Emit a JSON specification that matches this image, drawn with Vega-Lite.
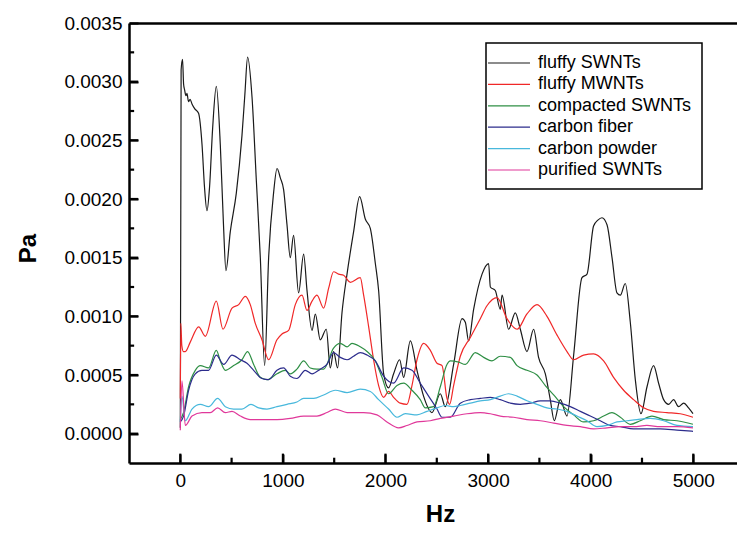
{
  "$schema": "https://vega.github.io/schema/vega-lite/v6.json",
  "width": 608,
  "height": 440,
  "autosize": {"type": "none"},
  "padding": {"left": 129, "top": 23, "right": 0, "bottom": 77},
  "background": "white",
  "config": {
    "view": {"stroke": null, "fill": null},
    "font": "Liberation Sans",
    "axis": {"domainColor": "black", "labelColor": "black", "titleColor": "black", "labelFont": "Liberation Sans", "titleFont": "Liberation Sans", "grid": false, "labelFontSize": 19, "titleFontSize": 24, "titleFontWeight": "bold", "domainWidth": 2.5},
    "legend": {"strokeWidth": 1.5}
  },
  "data": {"values": [
    {"series":"fluffy SWNTs","hz":0,"pa":0.00005},{"series":"fluffy SWNTs","hz":8,"pa":0.0031},{"series":"fluffy SWNTs","hz":22,"pa":0.00319},{"series":"fluffy SWNTs","hz":32,"pa":0.00298},{"series":"fluffy SWNTs","hz":42,"pa":0.00293},{"series":"fluffy SWNTs","hz":55,"pa":0.00288},{"series":"fluffy SWNTs","hz":65,"pa":0.0029},{"series":"fluffy SWNTs","hz":80,"pa":0.00283},{"series":"fluffy SWNTs","hz":95,"pa":0.00285},{"series":"fluffy SWNTs","hz":114,"pa":0.00281},{"series":"fluffy SWNTs","hz":140,"pa":0.00277},{"series":"fluffy SWNTs","hz":178,"pa":0.00273},{"series":"fluffy SWNTs","hz":212,"pa":0.00246},{"series":"fluffy SWNTs","hz":236,"pa":0.0021},{"series":"fluffy SWNTs","hz":260,"pa":0.0019},{"series":"fluffy SWNTs","hz":285,"pa":0.0021},{"series":"fluffy SWNTs","hz":315,"pa":0.0026},{"series":"fluffy SWNTs","hz":351,"pa":0.00296},{"series":"fluffy SWNTs","hz":390,"pa":0.00246},{"series":"fluffy SWNTs","hz":420,"pa":0.0018},{"series":"fluffy SWNTs","hz":445,"pa":0.00139},{"series":"fluffy SWNTs","hz":487,"pa":0.00172},{"series":"fluffy SWNTs","hz":546,"pa":0.00205},{"series":"fluffy SWNTs","hz":601,"pa":0.00254},{"series":"fluffy SWNTs","hz":630,"pa":0.0029},{"series":"fluffy SWNTs","hz":656,"pa":0.00321},{"series":"fluffy SWNTs","hz":699,"pa":0.00287},{"series":"fluffy SWNTs","hz":741,"pa":0.00216},{"series":"fluffy SWNTs","hz":780,"pa":0.0015},{"series":"fluffy SWNTs","hz":822,"pa":0.00058},{"series":"fluffy SWNTs","hz":861,"pa":0.0015},{"series":"fluffy SWNTs","hz":909,"pa":0.00205},{"series":"fluffy SWNTs","hz":943,"pa":0.00226},{"series":"fluffy SWNTs","hz":975,"pa":0.00218},{"series":"fluffy SWNTs","hz":1007,"pa":0.00208},{"series":"fluffy SWNTs","hz":1040,"pa":0.00178},{"series":"fluffy SWNTs","hz":1072,"pa":0.0015},{"series":"fluffy SWNTs","hz":1104,"pa":0.00169},{"series":"fluffy SWNTs","hz":1153,"pa":0.0012},{"series":"fluffy SWNTs","hz":1202,"pa":0.00153},{"series":"fluffy SWNTs","hz":1235,"pa":0.00122},{"series":"fluffy SWNTs","hz":1284,"pa":0.00088},{"series":"fluffy SWNTs","hz":1316,"pa":0.00102},{"series":"fluffy SWNTs","hz":1364,"pa":0.0008},{"series":"fluffy SWNTs","hz":1423,"pa":0.00089},{"series":"fluffy SWNTs","hz":1462,"pa":0.00056},{"series":"fluffy SWNTs","hz":1494,"pa":0.0007},{"series":"fluffy SWNTs","hz":1533,"pa":0.00056},{"series":"fluffy SWNTs","hz":1576,"pa":0.00103},{"series":"fluffy SWNTs","hz":1625,"pa":0.00136},{"series":"fluffy SWNTs","hz":1689,"pa":0.00172},{"series":"fluffy SWNTs","hz":1748,"pa":0.00202},{"series":"fluffy SWNTs","hz":1803,"pa":0.00183},{"series":"fluffy SWNTs","hz":1852,"pa":0.00175},{"series":"fluffy SWNTs","hz":1901,"pa":0.00145},{"series":"fluffy SWNTs","hz":1933,"pa":0.00122},{"series":"fluffy SWNTs","hz":1982,"pa":0.00051},{"series":"fluffy SWNTs","hz":2030,"pa":0.00039},{"series":"fluffy SWNTs","hz":2079,"pa":0.00051},{"series":"fluffy SWNTs","hz":2138,"pa":0.00063},{"series":"fluffy SWNTs","hz":2177,"pa":0.00048},{"series":"fluffy SWNTs","hz":2242,"pa":0.00079},{"series":"fluffy SWNTs","hz":2307,"pa":0.00054},{"series":"fluffy SWNTs","hz":2371,"pa":0.00032},{"series":"fluffy SWNTs","hz":2453,"pa":0.00018},{"series":"fluffy SWNTs","hz":2534,"pa":0.00034},{"series":"fluffy SWNTs","hz":2583,"pa":0.00023},{"series":"fluffy SWNTs","hz":2664,"pa":0.00059},{"series":"fluffy SWNTs","hz":2746,"pa":0.00098},{"series":"fluffy SWNTs","hz":2778,"pa":0.00095},{"series":"fluffy SWNTs","hz":2810,"pa":0.00079},{"series":"fluffy SWNTs","hz":2859,"pa":0.00106},{"series":"fluffy SWNTs","hz":2941,"pa":0.00136},{"series":"fluffy SWNTs","hz":3005,"pa":0.00145},{"series":"fluffy SWNTs","hz":3022,"pa":0.00125},{"series":"fluffy SWNTs","hz":3070,"pa":0.00122},{"series":"fluffy SWNTs","hz":3119,"pa":0.00106},{"series":"fluffy SWNTs","hz":3136,"pa":0.00118},{"series":"fluffy SWNTs","hz":3200,"pa":0.00089},{"series":"fluffy SWNTs","hz":3265,"pa":0.00103},{"series":"fluffy SWNTs","hz":3314,"pa":0.00089},{"series":"fluffy SWNTs","hz":3379,"pa":0.0007},{"series":"fluffy SWNTs","hz":3444,"pa":0.00089},{"series":"fluffy SWNTs","hz":3492,"pa":0.00065},{"series":"fluffy SWNTs","hz":3558,"pa":0.00051},{"series":"fluffy SWNTs","hz":3606,"pa":0.00029},{"series":"fluffy SWNTs","hz":3645,"pa":0.00011},{"series":"fluffy SWNTs","hz":3704,"pa":0.00029},{"series":"fluffy SWNTs","hz":3769,"pa":0.00015},{"series":"fluffy SWNTs","hz":3834,"pa":0.00067},{"series":"fluffy SWNTs","hz":3915,"pa":0.00133},{"series":"fluffy SWNTs","hz":3964,"pa":0.00136},{"series":"fluffy SWNTs","hz":4028,"pa":0.00177},{"series":"fluffy SWNTs","hz":4070,"pa":0.00182},{"series":"fluffy SWNTs","hz":4110,"pa":0.00184},{"series":"fluffy SWNTs","hz":4159,"pa":0.00178},{"series":"fluffy SWNTs","hz":4208,"pa":0.0015},{"series":"fluffy SWNTs","hz":4256,"pa":0.0012},{"series":"fluffy SWNTs","hz":4289,"pa":0.00118},{"series":"fluffy SWNTs","hz":4337,"pa":0.00128},{"series":"fluffy SWNTs","hz":4386,"pa":0.00095},{"series":"fluffy SWNTs","hz":4435,"pa":0.00046},{"series":"fluffy SWNTs","hz":4490,"pa":0.00017},{"series":"fluffy SWNTs","hz":4549,"pa":0.0004},{"series":"fluffy SWNTs","hz":4613,"pa":0.00058},{"series":"fluffy SWNTs","hz":4662,"pa":0.00043},{"series":"fluffy SWNTs","hz":4711,"pa":0.00029},{"series":"fluffy SWNTs","hz":4760,"pa":0.00025},{"series":"fluffy SWNTs","hz":4808,"pa":0.00029},{"series":"fluffy SWNTs","hz":4857,"pa":0.00023},{"series":"fluffy SWNTs","hz":4906,"pa":0.00026},{"series":"fluffy SWNTs","hz":4954,"pa":0.00022},{"series":"fluffy SWNTs","hz":4997,"pa":0.00017},
    {"series":"fluffy MWNTs","hz":0,"pa":0.0003},{"series":"fluffy MWNTs","hz":5,"pa":0.00094},{"series":"fluffy MWNTs","hz":15,"pa":0.00075},{"series":"fluffy MWNTs","hz":30,"pa":0.0007},{"series":"fluffy MWNTs","hz":49,"pa":0.0007},{"series":"fluffy MWNTs","hz":97,"pa":0.00078},{"series":"fluffy MWNTs","hz":179,"pa":0.00091},{"series":"fluffy MWNTs","hz":244,"pa":0.00083},{"series":"fluffy MWNTs","hz":351,"pa":0.00113},{"series":"fluffy MWNTs","hz":416,"pa":0.00089},{"series":"fluffy MWNTs","hz":504,"pa":0.00107},{"series":"fluffy MWNTs","hz":569,"pa":0.0011},{"series":"fluffy MWNTs","hz":634,"pa":0.00117},{"series":"fluffy MWNTs","hz":682,"pa":0.0011},{"series":"fluffy MWNTs","hz":731,"pa":0.00094},{"series":"fluffy MWNTs","hz":796,"pa":0.0008},{"series":"fluffy MWNTs","hz":861,"pa":0.00063},{"series":"fluffy MWNTs","hz":942,"pa":0.0008},{"series":"fluffy MWNTs","hz":991,"pa":0.00085},{"series":"fluffy MWNTs","hz":1056,"pa":0.00088},{"series":"fluffy MWNTs","hz":1121,"pa":0.0011},{"series":"fluffy MWNTs","hz":1186,"pa":0.00118},{"series":"fluffy MWNTs","hz":1235,"pa":0.00105},{"series":"fluffy MWNTs","hz":1284,"pa":0.00113},{"series":"fluffy MWNTs","hz":1332,"pa":0.00118},{"series":"fluffy MWNTs","hz":1397,"pa":0.00107},{"series":"fluffy MWNTs","hz":1446,"pa":0.00124},{"series":"fluffy MWNTs","hz":1494,"pa":0.00138},{"series":"fluffy MWNTs","hz":1543,"pa":0.00136},{"series":"fluffy MWNTs","hz":1592,"pa":0.00135},{"series":"fluffy MWNTs","hz":1657,"pa":0.00129},{"series":"fluffy MWNTs","hz":1754,"pa":0.00133},{"series":"fluffy MWNTs","hz":1787,"pa":0.00118},{"series":"fluffy MWNTs","hz":1836,"pa":0.00091},{"series":"fluffy MWNTs","hz":1884,"pa":0.00063},{"series":"fluffy MWNTs","hz":1933,"pa":0.00041},{"series":"fluffy MWNTs","hz":1982,"pa":0.00031},{"series":"fluffy MWNTs","hz":2030,"pa":0.00036},{"series":"fluffy MWNTs","hz":2079,"pa":0.00031},{"series":"fluffy MWNTs","hz":2144,"pa":0.00026},{"series":"fluffy MWNTs","hz":2209,"pa":0.00025},{"series":"fluffy MWNTs","hz":2258,"pa":0.00041},{"series":"fluffy MWNTs","hz":2307,"pa":0.00063},{"series":"fluffy MWNTs","hz":2372,"pa":0.00077},{"series":"fluffy MWNTs","hz":2437,"pa":0.00071},{"series":"fluffy MWNTs","hz":2502,"pa":0.0006},{"series":"fluffy MWNTs","hz":2551,"pa":0.00058},{"series":"fluffy MWNTs","hz":2599,"pa":0.0003},{"series":"fluffy MWNTs","hz":2625,"pa":0.00025},{"series":"fluffy MWNTs","hz":2664,"pa":0.00041},{"series":"fluffy MWNTs","hz":2729,"pa":0.00066},{"series":"fluffy MWNTs","hz":2827,"pa":0.00082},{"series":"fluffy MWNTs","hz":2924,"pa":0.00098},{"series":"fluffy MWNTs","hz":2989,"pa":0.00109},{"series":"fluffy MWNTs","hz":3087,"pa":0.00116},{"series":"fluffy MWNTs","hz":3184,"pa":0.00098},{"series":"fluffy MWNTs","hz":3282,"pa":0.00089},{"series":"fluffy MWNTs","hz":3379,"pa":0.00102},{"series":"fluffy MWNTs","hz":3477,"pa":0.0011},{"series":"fluffy MWNTs","hz":3574,"pa":0.001},{"series":"fluffy MWNTs","hz":3672,"pa":0.00084},{"series":"fluffy MWNTs","hz":3769,"pa":0.0007},{"series":"fluffy MWNTs","hz":3834,"pa":0.00063},{"series":"fluffy MWNTs","hz":3931,"pa":0.00067},{"series":"fluffy MWNTs","hz":4028,"pa":0.00068},{"series":"fluffy MWNTs","hz":4126,"pa":0.00062},{"series":"fluffy MWNTs","hz":4223,"pa":0.00048},{"series":"fluffy MWNTs","hz":4321,"pa":0.00037},{"series":"fluffy MWNTs","hz":4418,"pa":0.00029},{"series":"fluffy MWNTs","hz":4516,"pa":0.00022},{"series":"fluffy MWNTs","hz":4613,"pa":0.00019},{"series":"fluffy MWNTs","hz":4743,"pa":0.00018},{"series":"fluffy MWNTs","hz":4873,"pa":0.00017},{"series":"fluffy MWNTs","hz":4997,"pa":0.00014},
    {"series":"compacted SWNTs","hz":0,"pa":0.00012},{"series":"compacted SWNTs","hz":32,"pa":0.00018},{"series":"compacted SWNTs","hz":81,"pa":0.0004},{"series":"compacted SWNTs","hz":146,"pa":0.00054},{"series":"compacted SWNTs","hz":195,"pa":0.00058},{"series":"compacted SWNTs","hz":276,"pa":0.00056},{"series":"compacted SWNTs","hz":351,"pa":0.00071},{"series":"compacted SWNTs","hz":390,"pa":0.00062},{"series":"compacted SWNTs","hz":439,"pa":0.00054},{"series":"compacted SWNTs","hz":520,"pa":0.00058},{"series":"compacted SWNTs","hz":601,"pa":0.00063},{"series":"compacted SWNTs","hz":656,"pa":0.0007},{"series":"compacted SWNTs","hz":715,"pa":0.00059},{"series":"compacted SWNTs","hz":780,"pa":0.00048},{"series":"compacted SWNTs","hz":845,"pa":0.00046},{"series":"compacted SWNTs","hz":942,"pa":0.00051},{"series":"compacted SWNTs","hz":1023,"pa":0.00054},{"series":"compacted SWNTs","hz":1072,"pa":0.00051},{"series":"compacted SWNTs","hz":1137,"pa":0.00055},{"series":"compacted SWNTs","hz":1202,"pa":0.00062},{"series":"compacted SWNTs","hz":1267,"pa":0.00056},{"series":"compacted SWNTs","hz":1332,"pa":0.00055},{"series":"compacted SWNTs","hz":1397,"pa":0.00055},{"series":"compacted SWNTs","hz":1494,"pa":0.00073},{"series":"compacted SWNTs","hz":1559,"pa":0.00077},{"series":"compacted SWNTs","hz":1625,"pa":0.00074},{"series":"compacted SWNTs","hz":1673,"pa":0.00077},{"series":"compacted SWNTs","hz":1754,"pa":0.00074},{"series":"compacted SWNTs","hz":1820,"pa":0.0007},{"series":"compacted SWNTs","hz":1901,"pa":0.00062},{"series":"compacted SWNTs","hz":1966,"pa":0.00048},{"series":"compacted SWNTs","hz":2030,"pa":0.00034},{"series":"compacted SWNTs","hz":2112,"pa":0.00041},{"series":"compacted SWNTs","hz":2177,"pa":0.00043},{"series":"compacted SWNTs","hz":2258,"pa":0.00037},{"series":"compacted SWNTs","hz":2339,"pa":0.00029},{"series":"compacted SWNTs","hz":2388,"pa":0.00022},{"series":"compacted SWNTs","hz":2469,"pa":0.00023},{"series":"compacted SWNTs","hz":2534,"pa":0.0004},{"series":"compacted SWNTs","hz":2599,"pa":0.00059},{"series":"compacted SWNTs","hz":2632,"pa":0.00062},{"series":"compacted SWNTs","hz":2713,"pa":0.00061},{"series":"compacted SWNTs","hz":2778,"pa":0.00059},{"series":"compacted SWNTs","hz":2875,"pa":0.00069},{"series":"compacted SWNTs","hz":2957,"pa":0.00065},{"series":"compacted SWNTs","hz":3038,"pa":0.00062},{"series":"compacted SWNTs","hz":3119,"pa":0.00066},{"series":"compacted SWNTs","hz":3216,"pa":0.00065},{"series":"compacted SWNTs","hz":3282,"pa":0.00058},{"series":"compacted SWNTs","hz":3379,"pa":0.00054},{"series":"compacted SWNTs","hz":3477,"pa":0.0005},{"series":"compacted SWNTs","hz":3558,"pa":0.00041},{"series":"compacted SWNTs","hz":3639,"pa":0.00033},{"series":"compacted SWNTs","hz":3736,"pa":0.00023},{"series":"compacted SWNTs","hz":3834,"pa":0.00016},{"series":"compacted SWNTs","hz":3931,"pa":0.0001},{"series":"compacted SWNTs","hz":4028,"pa":0.00011},{"series":"compacted SWNTs","hz":4126,"pa":0.00015},{"series":"compacted SWNTs","hz":4207,"pa":0.00018},{"series":"compacted SWNTs","hz":4289,"pa":0.00014},{"series":"compacted SWNTs","hz":4386,"pa":0.00008},{"series":"compacted SWNTs","hz":4483,"pa":0.00011},{"series":"compacted SWNTs","hz":4597,"pa":0.00015},{"series":"compacted SWNTs","hz":4711,"pa":0.00012},{"series":"compacted SWNTs","hz":4841,"pa":0.00011},{"series":"compacted SWNTs","hz":4997,"pa":0.00008},
    {"series":"carbon fiber","hz":0,"pa":0.0001},{"series":"carbon fiber","hz":32,"pa":0.00015},{"series":"carbon fiber","hz":81,"pa":0.00037},{"series":"carbon fiber","hz":146,"pa":0.00051},{"series":"carbon fiber","hz":211,"pa":0.00054},{"series":"carbon fiber","hz":276,"pa":0.00054},{"series":"carbon fiber","hz":351,"pa":0.00067},{"series":"carbon fiber","hz":423,"pa":0.00059},{"series":"carbon fiber","hz":504,"pa":0.00067},{"series":"carbon fiber","hz":585,"pa":0.00063},{"series":"carbon fiber","hz":650,"pa":0.0006},{"series":"carbon fiber","hz":715,"pa":0.00054},{"series":"carbon fiber","hz":796,"pa":0.00047},{"series":"carbon fiber","hz":861,"pa":0.00046},{"series":"carbon fiber","hz":942,"pa":0.00054},{"series":"carbon fiber","hz":1007,"pa":0.00056},{"series":"carbon fiber","hz":1072,"pa":0.00049},{"series":"carbon fiber","hz":1137,"pa":0.00047},{"series":"carbon fiber","hz":1218,"pa":0.00054},{"series":"carbon fiber","hz":1284,"pa":0.00051},{"series":"carbon fiber","hz":1364,"pa":0.00055},{"series":"carbon fiber","hz":1429,"pa":0.00059},{"series":"carbon fiber","hz":1494,"pa":0.00069},{"series":"carbon fiber","hz":1559,"pa":0.00065},{"series":"carbon fiber","hz":1625,"pa":0.00063},{"series":"carbon fiber","hz":1689,"pa":0.00066},{"series":"carbon fiber","hz":1754,"pa":0.00069},{"series":"carbon fiber","hz":1820,"pa":0.00067},{"series":"carbon fiber","hz":1901,"pa":0.00062},{"series":"carbon fiber","hz":1982,"pa":0.00049},{"series":"carbon fiber","hz":2079,"pa":0.00043},{"series":"carbon fiber","hz":2177,"pa":0.00056},{"series":"carbon fiber","hz":2258,"pa":0.00054},{"series":"carbon fiber","hz":2339,"pa":0.00043},{"series":"carbon fiber","hz":2420,"pa":0.00032},{"series":"carbon fiber","hz":2502,"pa":0.00021},{"series":"carbon fiber","hz":2551,"pa":0.00014},{"series":"carbon fiber","hz":2632,"pa":0.00014},{"series":"carbon fiber","hz":2729,"pa":0.00026},{"series":"carbon fiber","hz":2827,"pa":0.00029},{"series":"carbon fiber","hz":2924,"pa":0.0003},{"series":"carbon fiber","hz":3022,"pa":0.00031},{"series":"carbon fiber","hz":3119,"pa":0.00029},{"series":"carbon fiber","hz":3216,"pa":0.00026},{"series":"carbon fiber","hz":3314,"pa":0.00025},{"series":"carbon fiber","hz":3411,"pa":0.00026},{"series":"carbon fiber","hz":3509,"pa":0.00028},{"series":"carbon fiber","hz":3606,"pa":0.00028},{"series":"carbon fiber","hz":3704,"pa":0.00026},{"series":"carbon fiber","hz":3801,"pa":0.00023},{"series":"carbon fiber","hz":3899,"pa":0.00019},{"series":"carbon fiber","hz":3996,"pa":0.00015},{"series":"carbon fiber","hz":4093,"pa":0.00011},{"series":"carbon fiber","hz":4191,"pa":0.00007},{"series":"carbon fiber","hz":4289,"pa":0.00006},{"series":"carbon fiber","hz":4418,"pa":0.00004},{"series":"carbon fiber","hz":4548,"pa":0.00004},{"series":"carbon fiber","hz":4678,"pa":0.00004},{"series":"carbon fiber","hz":4841,"pa":0.00003},{"series":"carbon fiber","hz":4997,"pa":0.00002},
    {"series":"carbon powder","hz":0,"pa":0.0001},{"series":"carbon powder","hz":16,"pa":0.00032},{"series":"carbon powder","hz":49,"pa":0.00011},{"series":"carbon powder","hz":114,"pa":0.00021},{"series":"carbon powder","hz":195,"pa":0.00025},{"series":"carbon powder","hz":276,"pa":0.00023},{"series":"carbon powder","hz":364,"pa":0.0003},{"series":"carbon powder","hz":439,"pa":0.00023},{"series":"carbon powder","hz":520,"pa":0.00021},{"series":"carbon powder","hz":601,"pa":0.00021},{"series":"carbon powder","hz":689,"pa":0.00025},{"series":"carbon powder","hz":764,"pa":0.00022},{"series":"carbon powder","hz":845,"pa":0.00021},{"series":"carbon powder","hz":942,"pa":0.00023},{"series":"carbon powder","hz":1040,"pa":0.00025},{"series":"carbon powder","hz":1137,"pa":0.00027},{"series":"carbon powder","hz":1202,"pa":0.0003},{"series":"carbon powder","hz":1300,"pa":0.0003},{"series":"carbon powder","hz":1397,"pa":0.00033},{"series":"carbon powder","hz":1511,"pa":0.00037},{"series":"carbon powder","hz":1625,"pa":0.00035},{"series":"carbon powder","hz":1754,"pa":0.00038},{"series":"carbon powder","hz":1852,"pa":0.00036},{"series":"carbon powder","hz":1933,"pa":0.00029},{"series":"carbon powder","hz":2030,"pa":0.00021},{"series":"carbon powder","hz":2112,"pa":0.00014},{"series":"carbon powder","hz":2193,"pa":0.00017},{"series":"carbon powder","hz":2307,"pa":0.00016},{"series":"carbon powder","hz":2404,"pa":0.00019},{"series":"carbon powder","hz":2502,"pa":0.00022},{"series":"carbon powder","hz":2583,"pa":0.00024},{"series":"carbon powder","hz":2664,"pa":0.00023},{"series":"carbon powder","hz":2729,"pa":0.00024},{"series":"carbon powder","hz":2827,"pa":0.00026},{"series":"carbon powder","hz":2924,"pa":0.00028},{"series":"carbon powder","hz":3022,"pa":0.00029},{"series":"carbon powder","hz":3119,"pa":0.00032},{"series":"carbon powder","hz":3200,"pa":0.00034},{"series":"carbon powder","hz":3282,"pa":0.00032},{"series":"carbon powder","hz":3379,"pa":0.00028},{"series":"carbon powder","hz":3477,"pa":0.00025},{"series":"carbon powder","hz":3574,"pa":0.00022},{"series":"carbon powder","hz":3672,"pa":0.00021},{"series":"carbon powder","hz":3769,"pa":0.00019},{"series":"carbon powder","hz":3866,"pa":0.00015},{"series":"carbon powder","hz":3964,"pa":0.00011},{"series":"carbon powder","hz":4061,"pa":0.00006},{"series":"carbon powder","hz":4159,"pa":0.00007},{"series":"carbon powder","hz":4256,"pa":0.0001},{"series":"carbon powder","hz":4354,"pa":0.00011},{"series":"carbon powder","hz":4451,"pa":0.00012},{"series":"carbon powder","hz":4581,"pa":0.00013},{"series":"carbon powder","hz":4711,"pa":0.00011},{"series":"carbon powder","hz":4841,"pa":0.00007},{"series":"carbon powder","hz":4997,"pa":0.00006},
    {"series":"purified SWNTs","hz":0,"pa":0.00003},{"series":"purified SWNTs","hz":16,"pa":0.00045},{"series":"purified SWNTs","hz":49,"pa":0.00007},{"series":"purified SWNTs","hz":114,"pa":0.00015},{"series":"purified SWNTs","hz":211,"pa":0.00018},{"series":"purified SWNTs","hz":292,"pa":0.00018},{"series":"purified SWNTs","hz":364,"pa":0.00022},{"series":"purified SWNTs","hz":439,"pa":0.00018},{"series":"purified SWNTs","hz":504,"pa":0.00019},{"series":"purified SWNTs","hz":585,"pa":0.00015},{"series":"purified SWNTs","hz":682,"pa":0.00012},{"series":"purified SWNTs","hz":812,"pa":0.00012},{"series":"purified SWNTs","hz":942,"pa":0.00012},{"series":"purified SWNTs","hz":1072,"pa":0.00013},{"series":"purified SWNTs","hz":1202,"pa":0.00015},{"series":"purified SWNTs","hz":1332,"pa":0.00015},{"series":"purified SWNTs","hz":1429,"pa":0.00018},{"series":"purified SWNTs","hz":1511,"pa":0.00021},{"series":"purified SWNTs","hz":1625,"pa":0.00018},{"series":"purified SWNTs","hz":1787,"pa":0.00018},{"series":"purified SWNTs","hz":1917,"pa":0.00016},{"series":"purified SWNTs","hz":2014,"pa":0.0001},{"series":"purified SWNTs","hz":2128,"pa":0.00005},{"series":"purified SWNTs","hz":2209,"pa":0.00007},{"series":"purified SWNTs","hz":2307,"pa":0.0001},{"series":"purified SWNTs","hz":2437,"pa":0.00011},{"series":"purified SWNTs","hz":2534,"pa":0.00013},{"series":"purified SWNTs","hz":2664,"pa":0.00015},{"series":"purified SWNTs","hz":2794,"pa":0.00017},{"series":"purified SWNTs","hz":2924,"pa":0.00018},{"series":"purified SWNTs","hz":3022,"pa":0.00017},{"series":"purified SWNTs","hz":3119,"pa":0.00015},{"series":"purified SWNTs","hz":3249,"pa":0.00014},{"series":"purified SWNTs","hz":3379,"pa":0.00012},{"series":"purified SWNTs","hz":3509,"pa":0.00011},{"series":"purified SWNTs","hz":3639,"pa":0.00009},{"series":"purified SWNTs","hz":3769,"pa":0.00007},{"series":"purified SWNTs","hz":3899,"pa":0.00006},{"series":"purified SWNTs","hz":4028,"pa":0.00004},{"series":"purified SWNTs","hz":4159,"pa":0.00005},{"series":"purified SWNTs","hz":4289,"pa":0.00006},{"series":"purified SWNTs","hz":4418,"pa":0.00006},{"series":"purified SWNTs","hz":4548,"pa":0.00007},{"series":"purified SWNTs","hz":4678,"pa":0.00006},{"series":"purified SWNTs","hz":4841,"pa":0.00006},{"series":"purified SWNTs","hz":4997,"pa":0.00005}
  ]},
  "layer": [
    {
      "mark": {"type": "line", "strokeWidth": 1.2, "interpolate": "monotone"},
      "encoding": {
        "x": {"field": "hz", "type": "quantitative", "scale": {"domain": [-500, 5426], "nice": false, "zero": false},
          "axis": {"orient": "bottom", "offset": -9, "domain": false, "ticks": true, "tickSize": 9, "tickColor": "#000000", "tickWidth": 2, "values": [0, 1000, 2000, 3000, 4000, 5000], "format": "d", "labelPadding": 8, "labelFlush": false, "labelOverlap": false, "title": "Hz", "titleX": 311, "titleY": 67, "titleBaseline": "alphabetic", "titleAlign": "center"}},
        "y": {"field": "pa", "type": "quantitative", "scale": {"domain": [-0.00025, 0.0035], "nice": false, "zero": false},
          "axis": {"orient": "left", "offset": -9, "domain": false, "ticks": true, "tickSize": 9, "tickColor": "#000000", "tickWidth": 2, "values": [0, 0.0005, 0.001, 0.0015, 0.002, 0.0025, 0.003, 0.0035], "format": ".4f", "labelPadding": 7, "labelFlush": false, "labelOverlap": false, "title": "Pa", "titleX": -103, "titleY": 225, "titleBaseline": "alphabetic", "titleAlign": "center", "titleAngle": -90}},
        "color": {"field": "series", "type": "nominal",
          "scale": {"domain": ["fluffy SWNTs", "fluffy MWNTs", "compacted SWNTs", "carbon fiber", "carbon powder", "purified SWNTs"], "range": ["#1a1a1a", "#f02828", "#2f8f45", "#2c2c8c", "#48b8dc", "#e0389a"]},
          "legend": {"orient": "none", "legendX": 357, "legendY": 20, "title": null, "padding": 10, "strokeColor": "black", "fillColor": "white", "symbolType": "M-2.333,0L2.333,0", "symbolSize": 324, "symbolStrokeWidth": 1.2, "symbolOffset": 3, "labelOffset": 19, "labelFontSize": 18, "labelFont": "Liberation Sans", "labelColor": "black", "labelLimit": 400, "rowPadding": 2.4, "labelExpr": "datum.label + '  '"}}
      }
    },
    {
      "mark": {"type": "line", "opacity": 0},
      "encoding": {
        "x": {"field": "hz", "type": "quantitative", "scale": {"domain": [-500, 5426], "nice": false, "zero": false},
          "axis": {"orient": "top", "labels": false, "ticks": false, "domain": true, "title": null}},
        "y": {"field": "pa", "type": "quantitative", "scale": {"domain": [-0.00025, 0.0035], "nice": false, "zero": false},
          "axis": {"orient": "left", "labels": false, "ticks": false, "domain": true, "title": null}},
        "detail": {"field": "series"}
      }
    },
    {
      "mark": {"type": "line", "opacity": 0},
      "encoding": {
        "x": {"field": "hz", "type": "quantitative", "scale": {"domain": [-500, 5426], "nice": false, "zero": false},
          "axis": {"orient": "bottom", "labels": false, "ticks": false, "domain": true, "title": null}},
        "y": {"field": "pa", "type": "quantitative", "scale": {"domain": [-0.00025, 0.0035], "nice": false, "zero": false}, "axis": null},
        "detail": {"field": "series"}
      }
    },
    {
      "data": {"values": [{"hz": 0}, {"hz": 1000}, {"hz": 2000}, {"hz": 3000}, {"hz": 4000}, {"hz": 5000}]},
      "mark": {"type": "rule", "strokeWidth": 2.2, "color": "#000000", "opacity": 1},
      "encoding": {
        "x": {"field": "hz", "type": "quantitative", "scale": {"domain": [-500, 5426], "nice": false, "zero": false}, "axis": null},
        "y": {"datum": -0.00025, "type": "quantitative", "scale": {"domain": [-0.00025, 0.0035], "nice": false, "zero": false}, "axis": null},
        "y2": {"datum": -0.00017}
      }
    },
    {
      "data": {"values": [{"hz": 500}, {"hz": 1500}, {"hz": 2500}, {"hz": 3500}, {"hz": 4500}]},
      "mark": {"type": "rule", "strokeWidth": 2.2, "color": "#000000", "opacity": 1},
      "encoding": {
        "x": {"field": "hz", "type": "quantitative", "scale": {"domain": [-500, 5426], "nice": false, "zero": false}, "axis": null},
        "y": {"datum": -0.00025, "type": "quantitative", "scale": {"domain": [-0.00025, 0.0035], "nice": false, "zero": false}, "axis": null},
        "y2": {"datum": -0.000205}
      }
    },
    {
      "data": {"values": [{"pa": 0}, {"pa": 0.0005}, {"pa": 0.001}, {"pa": 0.0015}, {"pa": 0.002}, {"pa": 0.0025}, {"pa": 0.003}]},
      "mark": {"type": "rule", "strokeWidth": 2.2, "color": "#000000", "opacity": 1},
      "encoding": {
        "y": {"field": "pa", "type": "quantitative", "scale": {"domain": [-0.00025, 0.0035], "nice": false, "zero": false}, "axis": null},
        "x": {"datum": -500, "type": "quantitative", "scale": {"domain": [-500, 5426], "nice": false, "zero": false}, "axis": null},
        "x2": {"datum": -410}
      }
    },
    {
      "data": {"values": [{"pa": 0.00025}, {"pa": 0.00075}, {"pa": 0.00125}, {"pa": 0.00175}, {"pa": 0.00225}, {"pa": 0.00275}, {"pa": 0.00325}]},
      "mark": {"type": "rule", "strokeWidth": 2.2, "color": "#000000", "opacity": 1},
      "encoding": {
        "y": {"field": "pa", "type": "quantitative", "scale": {"domain": [-0.00025, 0.0035], "nice": false, "zero": false}, "axis": null},
        "x": {"datum": -500, "type": "quantitative", "scale": {"domain": [-500, 5426], "nice": false, "zero": false}, "axis": null},
        "x2": {"datum": -450}
      }
    }
  ],
  "resolve": {"axis": {"x": "independent", "y": "independent"}}
}
